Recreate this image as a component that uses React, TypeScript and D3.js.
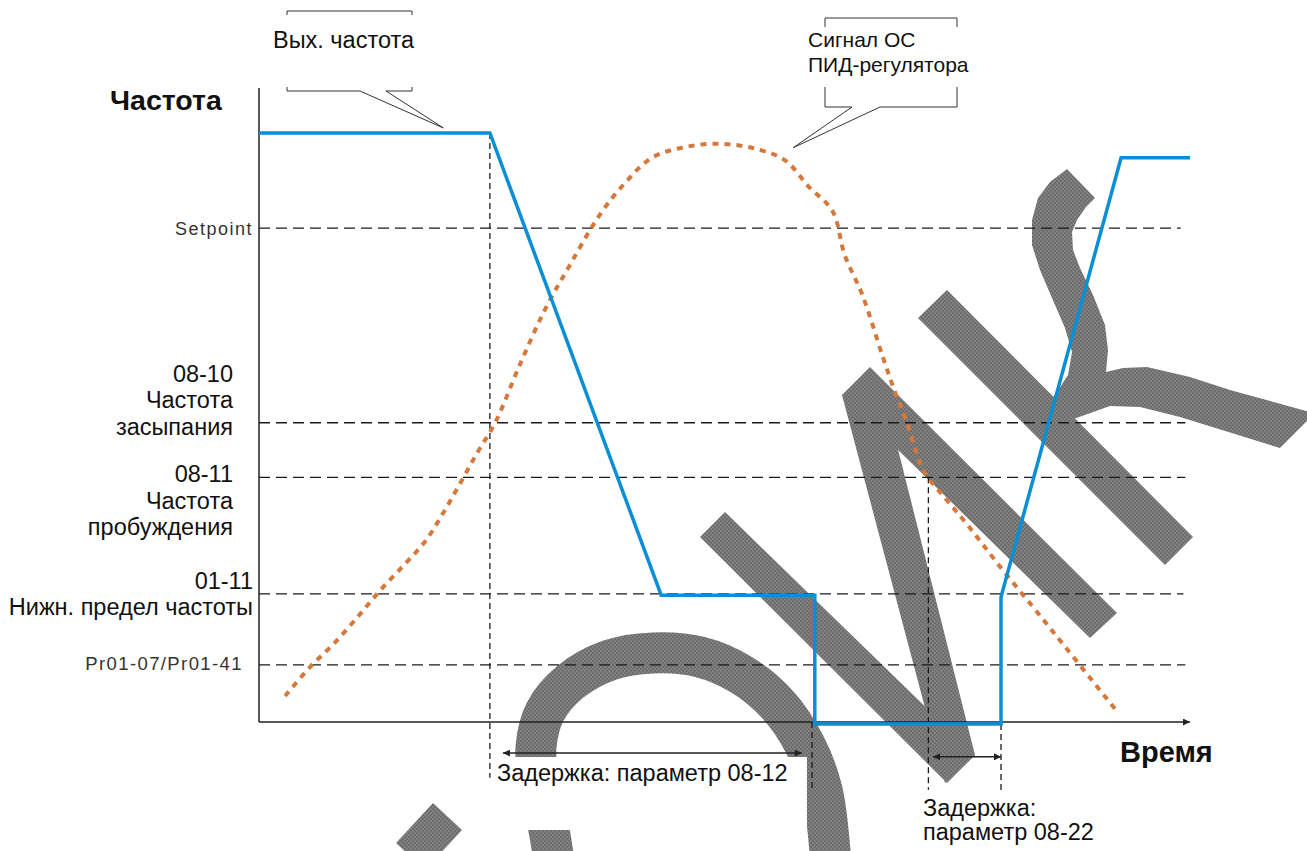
import React from "react";
import * as d3 from "d3";

const W = 1307;
const H = 851;

// time axis units 0..100, frequency axis units 0..100
const outputT = [0, 24.8, 43.2, 59.7, 59.7, 79.7, 79.7, 92.6, 100];
const outputF = [92.9, 92.9, 20.0, 20.0, -0.3, -0.3, 19.7, 89.0, 89.0];

const pidT = [2.8, 5.5, 8.0, 10.5, 12.8, 15.4, 17.8, 19.8, 21.7, 23.5, 25.4, 28.0, 30.7, 33.4, 36.6, 39.3, 42.2, 45.8, 49.5, 53.1, 56.5, 59.0, 61.6, 62.9, 64.8, 67.0, 68.3, 69.6, 70.7, 71.5, 73.7, 76.1, 79.6, 84.1, 86.4, 89.3, 92.2];
const pidF = [4.1, 8.7, 12.3, 16.4, 20.4, 24.5, 28.4, 33.0, 37.9, 42.6, 47.3, 56.3, 65.0, 72.1, 80.0, 85.0, 89.0, 90.7, 91.2, 90.5, 88.6, 84.5, 80.6, 73.7, 67.4, 57.6, 52.1, 47.2, 42.1, 39.3, 35.3, 31.1, 24.5, 16.4, 12.2, 6.9, 1.6];

const levelValues = [77.9, 47.2, 38.6, 20.2, 9.0];
const levelEnd = [99.0, 99.5, 99.5, 99.3, 99.5];
const levelLabels = [
  ["Setpoint"],
  ["08-10", "Частота", "засыпания"],
  ["08-11", "Частота", "пробуждения"],
  ["01-11", "Нижн. предел частоты"],
  ["Pr01-07/Pr01-41"],
];
const levelLabelDy = [7, -41, 5, -5, 5];
const levelLabelX = [253, 233, 233, 253, 243];
const levelLabelSize = [18, 23.5, 23.5, 23.5, 18.5];
const levelLabelColor = ["#333", "#111", "#111", "#111", "#333"];
const levelLabelSpacing = [1.5, 0, 0, 0, 1.4];

const markerT = [24.8, 59.4, 71.9, 79.7];
const markerTop = [92.9, 0, 38.6, -0.3];
const markerBottom = [-8.8, -10.7, -10.7, -11.2];

const delayStart = [26.2, 72.4];
const delayEnd = [58.3, 79.7];
const delayLevel = [-4.9, -5.5];
const delayLabels = [["Задержка: параметр 08-12"], ["Задержка:", "параметр 08-22"]];

const FONT = "'Liberation Sans', Arial, sans-serif";

// decorative watermark outlines (page pixels)
const wmPolygons: [number, number][][] = [
  [[700, 537], [725, 512], [975, 755], [947, 783]],
  [[842, 395], [880, 378], [975, 755], [945, 783]],
  [[842, 395], [870, 367], [1117, 613], [1090, 638]],
  [[918, 318], [947, 290], [1193, 537], [1165, 565]],
  [[1067, 169], [1050, 182], [1038, 198], [1032, 220], [1032, 245], [1040, 270], [1052, 298], [1065, 328], [1072, 352], [1068, 375], [1055, 395], [1045, 405], [1070, 420], [1085, 415], [1110, 406], [1140, 407], [1180, 417], [1280, 448], [1310, 418], [1310, 412], [1230, 390], [1190, 377], [1147, 367], [1123, 368], [1106, 372], [1108, 350], [1105, 325], [1093, 295], [1080, 268], [1073, 250], [1072, 232], [1077, 220], [1086, 207], [1095, 198]],
  [[433, 803], [462, 830], [425, 870], [396, 843]],
];
const wmArc: [number, number][] = [
  [556, 875], [549, 830], [539, 785], [536, 747], [545, 712], [570, 682], [610, 660], [653, 653], [700, 657], [742, 675], [778, 705], [805, 745], [822, 790], [830, 851], [832, 880],
];

export default function App() {
  const x = d3.scaleLinear().domain([0, 100]).range([259, 1190]);
  const y = d3.scaleLinear().domain([0, 100]).range([722, 88]);

  const outLine = d3
    .line<number>()
    .x((i) => x(outputT[i]))
    .y((i) => y(outputF[i]));
  const pidLine = d3
    .line<number>()
    .x((i) => x(pidT[i]))
    .y((i) => y(pidF[i]))
    .curve(d3.curveCatmullRom.alpha(0.5));
  const poly = d3.line<[number, number]>().x((d) => d[0]).y((d) => d[1]);
  const arcLine = d3
    .line<[number, number]>()
    .x((d) => d[0])
    .y((d) => d[1])
    .curve(d3.curveCatmullRom.alpha(0.5));

  const tip1: [number, number] = [x(19.8), y(93.7)];
  const tip2: [number, number] = [x(57.4), y(90.6)];

  return (
    <svg
      width={W}
      height={H}
      style={{ position: "absolute", left: 0, top: 0, background: "#fff" }}
      fontFamily={FONT}
    >
      <defs>
        <pattern id="wm" width="4" height="4" patternUnits="userSpaceOnUse">
          <rect width="4" height="4" fill="#808080" />
          <rect width="2" height="2" fill="#6e6e6e" />
          <rect x="2" y="2" width="2" height="2" fill="#6e6e6e" />
        </pattern>
        <marker
          id="arr"
          viewBox="0 0 10 10"
          refX="10"
          refY="5"
          markerWidth="12"
          markerHeight="7"
          markerUnits="userSpaceOnUse"
          orient="auto-start-reverse"
        >
          <path d="M0,0 L10,5 L0,10 Z" fill="#222" />
        </marker>
        <marker
          id="axarr"
          viewBox="0 0 10 10"
          refX="10"
          refY="5"
          markerWidth="10"
          markerHeight="7"
          markerUnits="userSpaceOnUse"
          orient="auto"
        >
          <path d="M0,0 L10,5 L0,10 Z" fill="#222" />
        </marker>
      </defs>

      {/* watermark */}
      <g>
        <path d={arcLine(wmArc) || ""} fill="none" stroke="url(#wm)" strokeWidth={41} />
        {wmPolygons.map((p, i) => (
          <path key={i} d={(poly(p) || "") + "Z"} fill="url(#wm)" />
        ))}
      </g>

      {/* label background for the first delay */}
      <rect x={x(delayStart[0]) - 11} y={757} width={315} height={73} fill="#fff" />

      {/* reference levels */}
      {levelValues.map((v, i) => (
        <line
          key={"lv" + i}
          x1={x(0)}
          x2={x(levelEnd[i])}
          y1={y(v)}
          y2={y(v)}
          stroke="#1a1a1a"
          strokeWidth={1.3}
          strokeDasharray="11,6"
        />
      ))}
      {levelLabels.map((lines, i) => (
        <text
          key={"ll" + i}
          textAnchor="end"
          fontSize={levelLabelSize[i]}
          fill={levelLabelColor[i]}
          letterSpacing={levelLabelSpacing[i]}
        >
          {lines.map((s, j) => (
            <tspan key={j} x={levelLabelX[i]} y={y(levelValues[i]) + levelLabelDy[i] + j * 26.5}>
              {s}
            </tspan>
          ))}
        </text>
      ))}

      {/* vertical markers */}
      {markerT.map((t, i) => (
        <line
          key={"mk" + i}
          x1={x(t)}
          x2={x(t)}
          y1={y(markerTop[i])}
          y2={y(markerBottom[i])}
          stroke="#1a1a1a"
          strokeWidth={1.3}
          strokeDasharray="6,4"
        />
      ))}

      {/* axes */}
      <line x1={x(0)} x2={x(0)} y1={y(0)} y2={y(100)} stroke="#222" strokeWidth={1.5} />
      <line
        x1={x(0)}
        x2={x(100)}
        y1={y(0)}
        y2={y(0)}
        stroke="#222"
        strokeWidth={1.5}
        markerEnd="url(#axarr)"
      />

      {/* PID feedback */}
      <path
        d={pidLine(d3.range(pidT.length)) || ""}
        fill="none"
        stroke="#d5783c"
        strokeWidth={4}
        strokeDasharray="6,6"
      />
      {/* output frequency */}
      <path
        d={outLine(d3.range(outputT.length)) || ""}
        fill="none"
        stroke="#0a8fd6"
        strokeWidth={3.5}
        strokeLinejoin="miter"
      />

      {/* delay arrows */}
      {delayStart.map((s, i) => (
        <line
          key={"da" + i}
          x1={x(s)}
          x2={x(delayEnd[i])}
          y1={y(delayLevel[i])}
          y2={y(delayLevel[i])}
          stroke="#222"
          strokeWidth={1.5}
          markerStart="url(#arr)"
          markerEnd="url(#arr)"
        />
      ))}
      <text fontSize={23.5} fill="#111">
        <tspan x={497} y={781}>{delayLabels[0][0]}</tspan>
      </text>
      <text fontSize={23.5} fill="#111">
        {delayLabels[1].map((s, j) => (
          <tspan key={j} x={923} y={816 + j * 24}>
            {s}
          </tspan>
        ))}
      </text>

      {/* axis titles */}
      <text x={110} y={110} fontSize={28.5} fontWeight="bold" fill="#111">
        Частота
      </text>
      <text x={1120} y={762} fontSize={29} fontWeight="bold" fill="#111">
        Время
      </text>

      {/* callouts */}
      <path d="M287,15 V11 H412 V15" fill="none" stroke="#333" strokeWidth={1} />
      <path
        d={`M287,87 V91 H360 L${tip1[0]},${tip1[1]} L386,91 H412 V87`}
        fill="none"
        stroke="#333"
        strokeWidth={1}
      />
      <text x={273} y={48} fontSize={23.5} fill="#111">
        Вых. частота
      </text>

      <path d="M825,27 V18 H957 V27" fill="none" stroke="#333" strokeWidth={1} />
      <path
        d={`M825,87 V107 H852 L${tip2[0]},${tip2[1]} L880,107 H957 V87`}
        fill="none"
        stroke="#333"
        strokeWidth={1}
      />
      <text fontSize={21} fill="#111">
        <tspan x={808} y={47}>Сигнал ОС</tspan>
        <tspan x={808} y={72}>ПИД-регулятора</tspan>
      </text>
    </svg>
  );
}
